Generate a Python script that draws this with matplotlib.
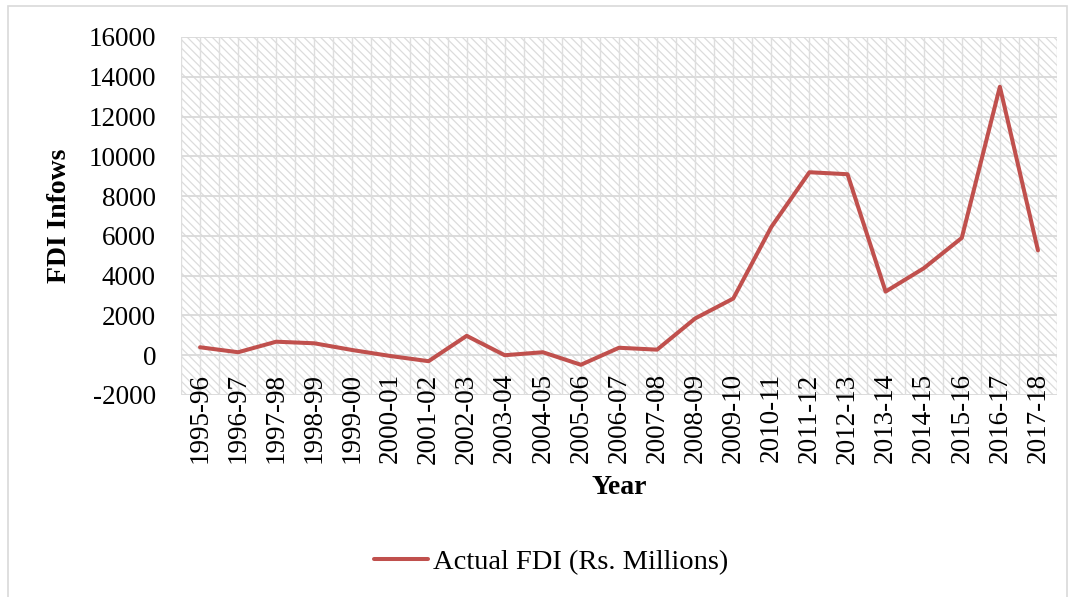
import matplotlib
matplotlib.use("Agg")
import matplotlib.pyplot as plt
from matplotlib.patches import Rectangle
import numpy as np

years = ["1995-96", "1996-97", "1997-98", "1998-99", "1999-00", "2000-01",
         "2001-02", "2002-03", "2003-04", "2004-05", "2005-06", "2006-07",
         "2007-08", "2008-09", "2009-10", "2010-11", "2011-12", "2012-13",
         "2013-14", "2014-15", "2015-16", "2016-17", "2017-18"]
fdi = [400, 150, 680, 600, 260, -40, -300, 975, 0, 150, -480, 375,
       280, 1850, 2850, 6450, 9200, 9100, 3200, 4370, 5900, 13500, 5270]
y_ticks = [-2000, 0, 2000, 4000, 6000, 8000, 10000, 12000, 14000, 16000]

plt.rcParams["font.family"] = ["Liberation Serif", "DejaVu Serif"]
plt.rcParams["hatch.color"] = "#DCDCDC"
plt.rcParams["hatch.linewidth"] = 0.9

W, H = 1075, 597
fig = plt.figure(figsize=(W / 100, H / 100), dpi=100)

# light outer frame
fig.patches.append(Rectangle((8 / W, -0.02), (1067 - 8) / W, 1 - 6 / H + 0.02,
                             transform=fig.transFigure, fill=False,
                             edgecolor="#D9D9D9", linewidth=1.2))

ax = fig.add_axes([181 / W, 1 - 395 / H, (1057 - 181) / W, (395 - 37) / H])
x = np.arange(len(years))
ax.set_xlim(-0.5, len(years) - 0.5)
ax.set_ylim(-2000, 16000)

# hatched plot area
ax.add_patch(Rectangle((0, 0), 1, 1, transform=ax.transAxes, facecolor="white",
                       hatch="\\\\\\\\", edgecolor="#DCDCDC", linewidth=0, zorder=0))

# gridlines: every 2000 vertically, every half category horizontally
for v in y_ticks:
    ax.axhline(v, color="#D9D9D9", linewidth=1.3, zorder=1)
for gx in np.arange(-0.5, len(years), 0.5):
    ax.axvline(gx, color="#DEDEDE", linewidth=1.0, zorder=1)

ax.plot(x, fdi, color="#C0504D", linewidth=2.9, solid_capstyle="round",
        solid_joinstyle="round", zorder=3, label="Actual FDI (Rs. Millions)")

for s in ax.spines.values():
    s.set_visible(False)
ax.spines["bottom"].set_position(("data", 0))

ax.set_yticks(y_ticks)
ax.set_yticklabels([str(v) for v in y_ticks])
ax.set_xticks(x)
ax.set_xticklabels(years, rotation=90)
ax.tick_params(axis="y", length=0, pad=18, labelsize=19.5)
ax.tick_params(axis="x", length=0, pad=13, labelsize=19.5)

fig.text(60 / W, 1 - 216 / H, "FDI Infows", rotation=90, ha="center", va="center",
         fontsize=20, fontweight="bold")
fig.text(619 / W, 1 - 488 / H, "Year", ha="center", va="center",
         fontsize=20, fontweight="bold")

fig.legend(loc="center", bbox_to_anchor=(551 / W, 1 - 562 / H), frameon=False,
           fontsize=20.5, handlelength=1.9, handletextpad=0.18)

fig.savefig("out.png", dpi=100)
